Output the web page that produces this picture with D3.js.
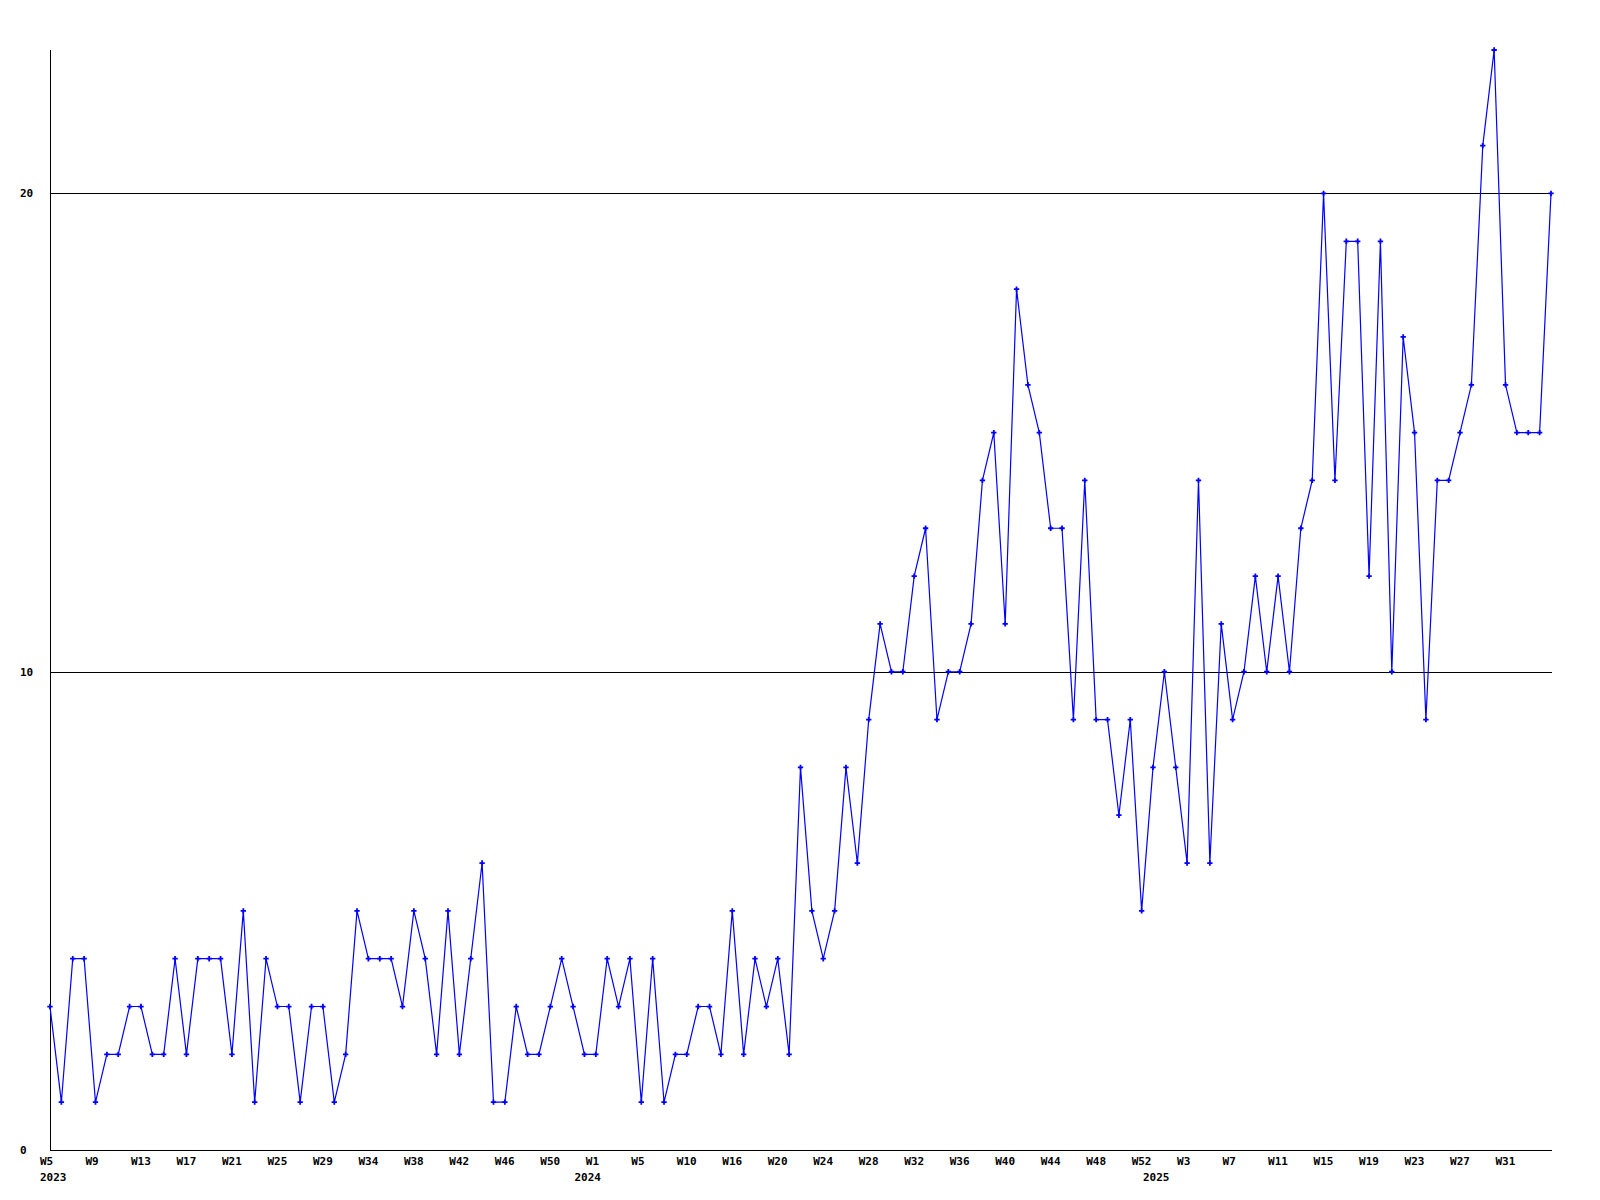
<!DOCTYPE html>
<html>
<head>
<meta charset="utf-8">
<script src="https://cdn.jsdelivr.net/npm/d3@7"></script>
<style>
  html, body { margin: 0; padding: 0; background: #fff; }
  svg { display: block; }
  text { font-family: "DejaVu Sans Mono", monospace; font-weight: bold; font-size: 11px; fill: #000; }
</style>
</head>
<body>
<svg id="chart" width="1600" height="1200"></svg>
<script>
// ---- data ----
const weeks2023 = [5,6,7,8,9,10,11,12,13,14,15,16,17,18,19,20,21,22,23,24,25,26,27,28,29,30,31,32,34,35,36,37,38,39,40,41,42,43,44,45,46,47,48,49,50,51,52];
const weeks2024 = [0,1,2,3,4,5,6,7,8,10,11,12,13,16,17,18,19,20,21,22,23,24,25,26,27,28,29,30,31,32,33,34,35,36,37,38,39,40,41,42,43,44,45,46,47,48,49,50,51,52];
const weeks2025 = [0,1,2,3,4,5,6,7,8,9,10,11,12,13,14,15,16,17,18,19,20,21,22,23,24,25,26,27,28,29,30,31,32,33,34,35];
const years = ["2023", "2024", "2025"];
const values = [
  3,1,4,4,1,2,2,3,3,2,
  2,4,2,4,4,4,2,5,1,4,
  3,3,1,3,3,1,2,5,4,4,
  4,3,5,4,2,5,2,4,6,1,
  1,3,2,2,3,4,3,2,2,4,
  3,4,1,4,1,2,2,3,3,2,
  5,2,4,3,4,2,8,5,4,5,
  8,6,9,11,10,10,12,13,9,10,
  10,11,14,15,11,18,16,15,13,13,
  9,14,9,9,7,9,5,8,10,8,
  6,14,6,11,9,10,12,10,12,10,
  13,14,20,14,19,19,12,19,10,17,
  15,9,14,14,15,16,21,23,16,15,
  15,15,20
];
const yTicks = [0, 10, 20];
const yMax = 23;

(function () {
  // categories built from the week lists
  const categories = [];
  [weeks2023, weeks2024, weeks2025].forEach((wk, yi) => {
    wk.forEach((w, k) => categories.push({ year: years[yi], week: w, first: k === 0 }));
  });
  const data = categories.map((c, i) => Object.assign({ i, value: values[i] }, c));
  const n = data.length;

  // ---- layout ----
  const svg = d3.select("#chart");
  const mLeft = 50, mRight = 1551, mTop = 50, mBottom = 1150;

  const x = d3.scalePoint().domain(data.map(d => d.i)).range([mLeft, mRight]);
  const y = d3.scaleLinear().domain([0, yMax]).range([mBottom, mTop]);

  const px = v => Math.round(v) + 0.5;

  // grid lines
  svg.append("g").selectAll("line").data(yTicks.filter(t => t > 0)).join("line")
    .attr("x1", mLeft).attr("x2", mRight + 1)
    .attr("y1", d => px(y(d))).attr("y2", d => px(y(d)))
    .attr("stroke", "#000").attr("stroke-width", 1).attr("shape-rendering", "crispEdges");

  // axes
  svg.append("line").attr("x1", px(mLeft)).attr("x2", px(mLeft)).attr("y1", mTop).attr("y2", mBottom + 1)
    .attr("stroke", "#000").attr("shape-rendering", "crispEdges");
  svg.append("line").attr("x1", mLeft).attr("x2", mRight + 1).attr("y1", px(mBottom)).attr("y2", px(mBottom))
    .attr("stroke", "#000").attr("shape-rendering", "crispEdges");

  // y labels
  svg.append("g").selectAll("text").data(yTicks).join("text")
    .attr("x", 20).attr("y", d => y(d) + 1)
    .attr("dominant-baseline", "middle")
    .text(d => d);

  // x labels (every 4th point, not at the very end)
  svg.append("g").selectAll("text").data(data.filter(d => d.i % 4 === 0 && d.i < n - 1)).join("text")
    .attr("x", d => x(d.i) - 10).attr("y", 1162)
    .attr("dominant-baseline", "middle")
    .text(d => "W" + d.week);

  // year labels at the first point of each year
  svg.append("g").selectAll("text").data(data.filter(d => d.first)).join("text")
    .attr("x", d => x(d.i) - 10).attr("y", 1178)
    .attr("dominant-baseline", "middle")
    .text(d => d.year);

  // line
  const line = d3.line().x(d => x(d.i)).y(d => y(d.value));
  svg.append("path").datum(data)
    .attr("d", line)
    .attr("fill", "none").attr("stroke", "#0000ff").attr("stroke-width", 1.2);

  // markers
  svg.append("g").selectAll("path").data(data).join("path")
    .attr("transform", d => `translate(${x(d.i)},${y(d.value)})`)
    .attr("d", d3.symbol().type(d3.symbolCross).size(16))
    .attr("fill", "#0000ff");
})();
</script>
</body>
</html>
